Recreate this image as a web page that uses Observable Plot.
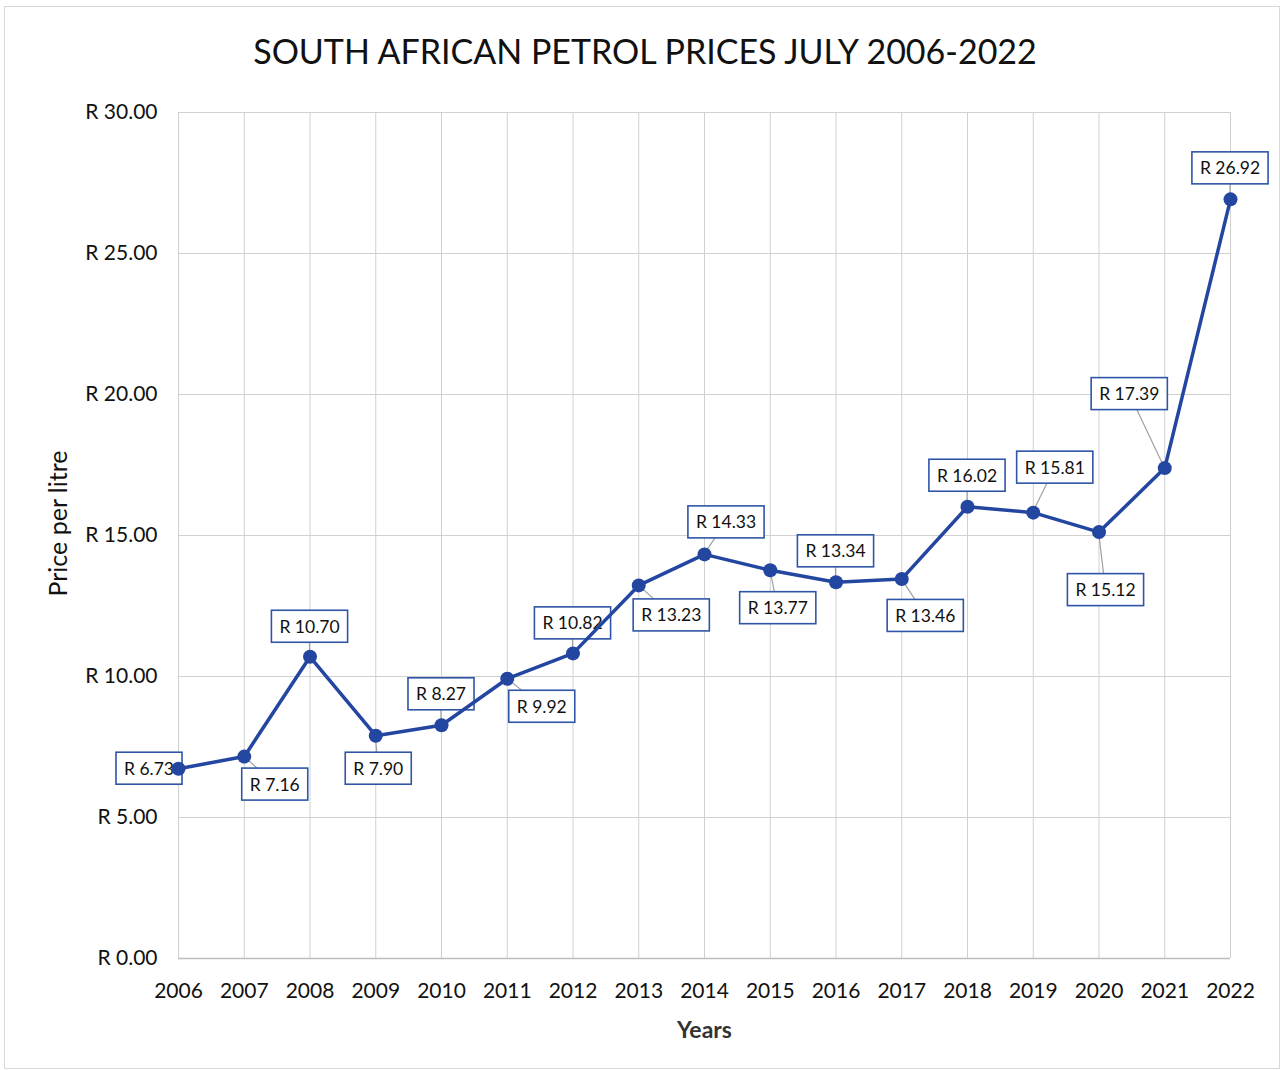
<!DOCTYPE html>
<html>
<head>
<meta charset="utf-8">
<script src="https://cdn.jsdelivr.net/npm/d3@7"></script>
<script src="https://cdn.jsdelivr.net/npm/@observablehq/plot@0.6"></script>
<style>
  body { margin: 0; background: #fff; }
  #wrap { position: relative; width: 1280px; height: 1070px; font-family: Lato, "Open Sans", sans-serif; }
  #border { position: absolute; left: 4px; top: 6px; width: 1274px; height: 1061px; border: 1px solid #d9d9d9; pointer-events: none; }
  #title { height: 80px; box-sizing: border-box; padding-top: 34px; padding-left: 10px; text-align: center; font-size: 34px; line-height: 1; color: #111; }
  svg { display: block; }
</style>
</head>
<body>
<div id="wrap">
  <div id="border"></div>
  <div id="title">SOUTH AFRICAN PETROL PRICES JULY 2006-2022</div>
  <div id="chart"></div>
</div>
<script>
// ---- data ----
const years = [2006, 2007, 2008, 2009, 2010, 2011, 2012, 2013, 2014, 2015, 2016, 2017, 2018, 2019, 2020, 2021, 2022];
const prices = [6.73, 7.16, 10.70, 7.90, 8.27, 9.92, 10.82, 13.23, 14.33, 13.77, 13.34, 13.46, 16.02, 15.81, 15.12, 17.39, 26.92];
const yTicks = [0, 5, 10, 15, 20, 25, 30];
// ---- label layout (pixel offsets of each label box from its point) ----
const labelDx = [-29, 31, 0, 3, 0, 35, 0, 33, 22, 8, 0, 24, 0, 22, 7, -35, 0];
const labelDy = [0, 28, -30, 33, -31, 28, -30, 30, -32, 38, -31, 37, -31, -45, 58, -74, -31];

const fmt = v => "R " + v.toFixed(2);
const blue = "#2346a0";
const font = "Lato, 'Open Sans', sans-serif";

const data = years.map((year, i) => ({ year, price: prices[i] }));

const chart = Plot.plot({
  width: 1280,
  height: 990,
  marginTop: 32,
  marginBottom: 112,
  marginLeft: 178,
  marginRight: 50,
  style: { fontFamily: font, color: "#111", background: "transparent" },
  x: { type: "linear", domain: [2006, 2022] },
  y: { domain: [0, 30] },
  marks: [
    Plot.gridX(years, { stroke: "#d0d0d0", strokeOpacity: 1, strokeWidth: 1 }),
    Plot.gridY(yTicks, { stroke: "#d0d0d0", strokeOpacity: 1, strokeWidth: 1 }),
    Plot.ruleY([0], { stroke: "#bdbdbd", strokeWidth: 1.5 }),
    Plot.axisX({ ticks: years, tickFormat: d => String(d), tickSize: 0, tickPadding: 25, fontSize: 21, label: null }),
    Plot.axisY({ ticks: yTicks, tickFormat: d => fmt(d), tickSize: 0, tickPadding: 21, fontSize: 21, label: null }),
    Plot.text(["Years"], { frameAnchor: "bottom", dy: 79, fontSize: 23, fontWeight: "bold", fill: "#333" }),
    Plot.text(["Price per litre"], { frameAnchor: "left", textAnchor: "middle", dx: -120, dy: -12, rotate: -90, fontSize: 25, fill: "#111" }),
    Plot.line(data, { x: "year", y: "price", stroke: blue, strokeWidth: 3.5 }),
    Plot.dot(data, { x: "year", y: "price", r: 7, fill: blue, stroke: "none" })
  ]
});

document.getElementById("chart").appendChild(chart);

// ---- data labels with boxes & leader lines (positioned via Plot's scales) ----
const sx = chart.scale("x"), sy = chart.scale("y");
const lineG = chart.querySelector('g[aria-label="line"]');
const g = d3.create("svg:g").attr("aria-label", "labels");
lineG.parentNode.insertBefore(g.node(), lineG);

const leaders = g.append("g");
const boxes = g.append("g");
data.forEach((d, i) => {
  const px = sx.apply(d.year), py = sy.apply(d.price);
  const cx = px + labelDx[i], cy = py + labelDy[i];
  leaders.append("line")
    .attr("x1", px).attr("y1", py).attr("x2", cx).attr("y2", cy)
    .attr("stroke", "#a0a0a0").attr("stroke-width", 1.2);
  const lg = boxes.append("g");
  const rect = lg.append("rect").attr("fill", "#fff").attr("stroke", "#2f55a6").attr("stroke-width", 1.6);
  const t = lg.append("text")
    .attr("x", cx).attr("y", cy)
    .attr("text-anchor", "middle").attr("dominant-baseline", "central")
    .attr("font-family", font).attr("font-size", 17.5).attr("fill", "#111")
    .text(fmt(d.price));
  const bb = t.node().getBBox();
  const w = bb.width + 16, h = 32;
  rect.attr("x", cx - w / 2).attr("y", cy - h / 2).attr("width", w).attr("height", h);
});
</script>
</body>
</html>
